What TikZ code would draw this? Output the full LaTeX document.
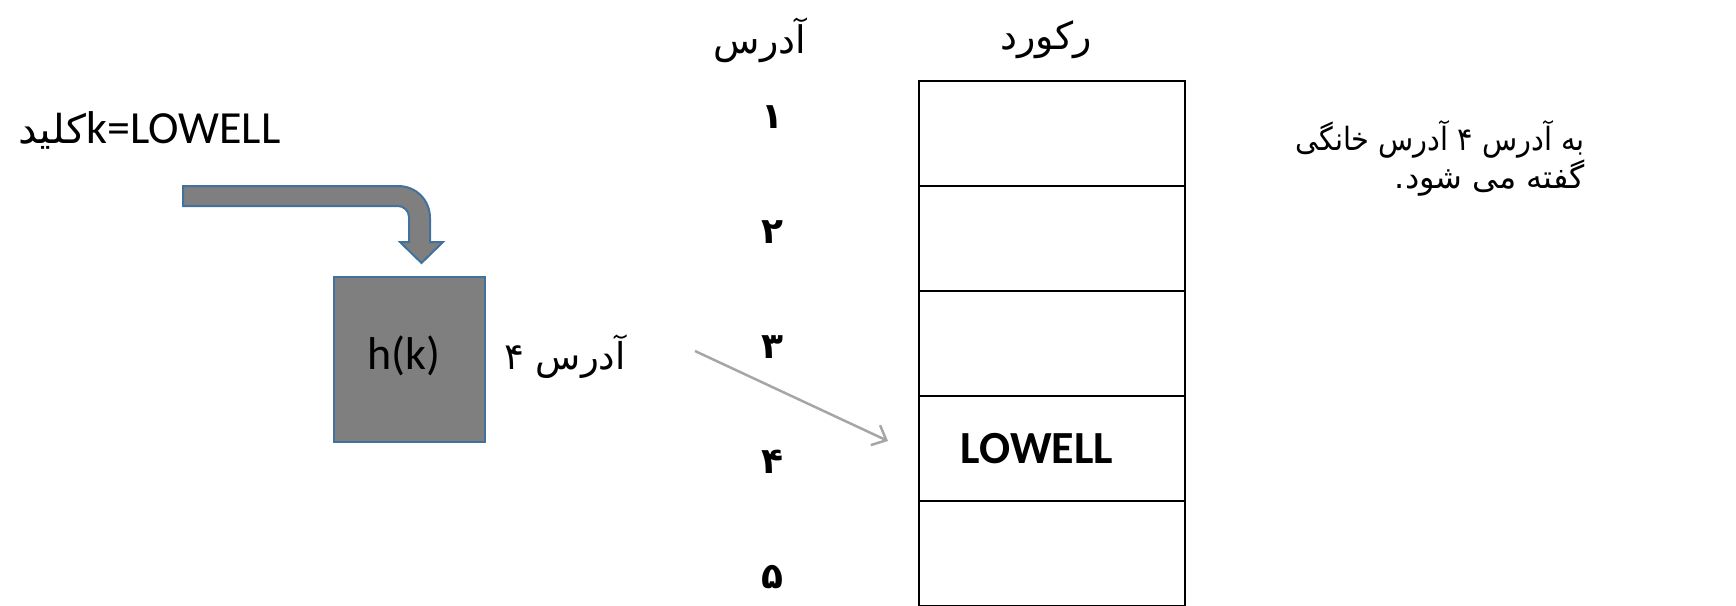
\documentclass[tikz,border=0pt]{standalone}
\usepackage{fontspec}
\usepackage{graphicx}
\TeXXeTstate=1
\newfontfamily\arabicfont[Script=Arabic]{DejaVu Sans}
\newfontfamily\latinfont{Carlito}
\usetikzlibrary{arrows.meta}
\definecolor{shapegray}{RGB}{127,127,127}
\definecolor{shapeblue}{RGB}{65,113,156}
\definecolor{linkgray}{RGB}{166,166,166}
\tikzset{
  cell/.style={draw=black, line width=2.5pt, minimum width=266pt, minimum height=105pt, inner sep=0pt},
  txt/.style={inner sep=0pt, outer sep=0pt},
  arab/.style={txt, font=\arabicfont\fontsize{37}{42}\selectfont},
  head/.style={txt, font=\arabicfont\fontsize{38}{42}\selectfont},
  num/.style={txt, font=\arabicfont\bfseries\fontsize{36}{40}\selectfont},
  hashbox/.style={draw=shapeblue, fill=shapegray, line width=2pt, minimum width=151pt, minimum height=165pt, inner sep=0pt},
  link/.style={draw=linkgray, line width=2.5pt, -{Straight Barb[length=12pt,width=22pt,line width=2.5pt]}}
}
\begin{document}
\begin{tikzpicture}[x=1pt,y=-1pt]
\useasboundingbox (0,0) rectangle (1736,605);
\clip (0,0) rectangle (1736,605);
% headers
\node[head] (hAddr) at (760,40) {\beginR آدرس\endR};
\node[head] (hRec) at (1046,40) {\beginR رکورد\endR};
% address numbers
\node[num] (n1) at (772,117) {۱};
\node[num] (n2) at (772,232) {۲};
\node[num] (n3) at (772,347) {۳};
\node[num] (n4) at (772,462) {۴};
\node[num] (n5) at (772,577) {۵};
% table
\node[cell] (r1) at (1052,133.5) {};
\node[cell] (r2) at (1052,238.5) {};
\node[cell] (r3) at (1052,343.5) {};
\node[cell] (r4) at (1052,448.5) {};
\node[cell] (r5) at (1052,553.5) {};
\node[txt, font=\latinfont\bfseries\fontsize{46}{50}\selectfont] (low) at (1037,449) {LOWELL};
% key text
\node[txt, anchor=base west] (key) at (18,143) {{\arabicfont\fontsize{38}{42}\selectfont\scalebox{1.1}[1.05]{\beginR كليد\endR}}{\latinfont\fontsize{46}{50}\selectfont k=LOWELL}};
% bent arrow
\draw[draw=shapeblue, fill=shapegray, line width=2pt, line join=miter]
  (183,186) -- (398,186) .. controls (416,186) and (430,200) .. (430,218)
  -- (430,242) -- (443,242) -- (421.5,263) -- (400,242) -- (409,242)
  -- (409,217) .. controls (409,211) and (404,206) .. (398,206) -- (183,206) -- cycle;
% hash box
\node[hashbox] (hk) at (409.5,359.5) {};
\node[txt, font=\latinfont\fontsize{46}{50}\selectfont] (hktext) at (404,356) {h(k)};
% result label
\node[arab] (res) at (565,357) {\beginR آدرس ۴\endR};
% link arrow
\coordinate (ls) at (695,351);
\coordinate (le) at (888,441);
\draw[link] (ls) -- (le);
% right explanation
\node[arab, anchor=base east] (ex1) at (1585,150) {\fontsize{32}{40}\selectfont\scalebox{0.9}[1]{\beginR به آدرس ۴ آدرس خانگی\endR}};
\node[arab, anchor=base east] (ex2) at (1585,188) {\fontsize{32}{40}\selectfont\beginR گفته می شود.\endR};
\end{tikzpicture}
\end{document}
